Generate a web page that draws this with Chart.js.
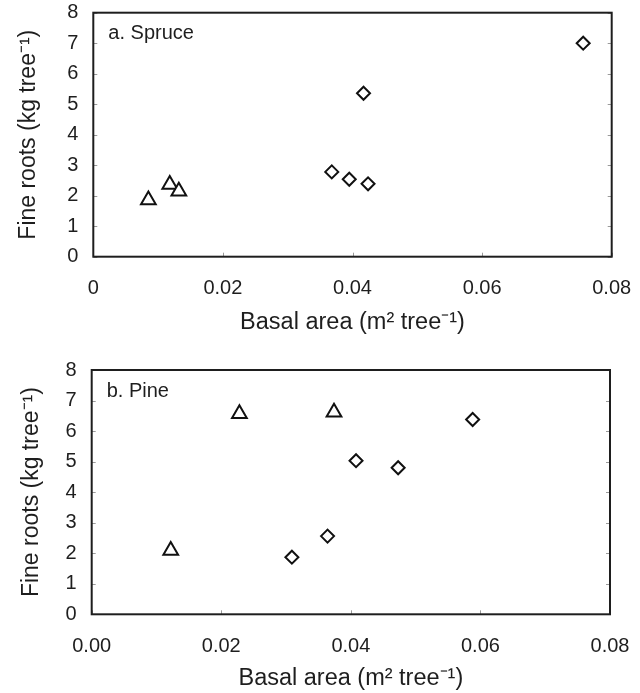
<!DOCTYPE html>
<html>
<head>
<meta charset="utf-8">
<script src="https://cdn.jsdelivr.net/npm/chart.js@4/dist/chart.umd.min.js"></script>
<style>
  html, body { margin: 0; padding: 0; background: #fff; }
  #wrap { position: relative; width: 640px; height: 693px; }
  .box { position: absolute; left: 0; width: 640px; }
</style>
</head>
<body>
<div id="wrap">
  <div class="box" style="top:0;height:340px;"><canvas id="c1"></canvas></div>
  <div class="box" style="top:340px;height:353px;"><canvas id="c2"></canvas></div>
</div>
<script>
// ---- data ----
const yTicks = [0, 1, 2, 3, 4, 5, 6, 7, 8];
const xTicksTop = ["0", "0.02", "0.04", "0.06", "0.08"];
const xTicksBottom = ["0.00", "0.02", "0.04", "0.06", "0.08"];
const xTickValues = [0, 0.02, 0.04, 0.06, 0.08];

const spruceTriX = [0.0085, 0.0118, 0.0132];
const spruceTriY = [1.86, 2.37, 2.15];
const spruceDiaX = [0.0368, 0.0395, 0.0424, 0.0417, 0.0756];
const spruceDiaY = [2.78, 2.54, 2.39, 5.36, 7.0];

const pineTriX = [0.0122, 0.0228, 0.0374];
const pineTriY = [2.09, 6.57, 6.62];
const pineDiaX = [0.0309, 0.0364, 0.0408, 0.0473, 0.0588];
const pineDiaY = [1.87, 2.56, 5.03, 4.80, 6.38];

const panelA = "a. Spruce";
const panelB = "b. Pine";
const xTitle = "Basal area (m\u00B2 tree\u207B\u00B9)";
const yTitle = "Fine roots (kg tree\u207B\u00B9)";

const FONT = "'Liberation Sans', Arial, Helvetica, sans-serif";
const INK = "#1e1e1e";

function pts(xs, ys) { return xs.map((x, i) => ({ x: x, y: ys[i] })); }

const framePlugin = {
  id: 'frame',
  beforeDatasetsDraw(chart) {
    const { ctx, chartArea: a, scales } = chart;
    ctx.save();
    // inner tick marks
    ctx.strokeStyle = '#9a9a9a';
    ctx.lineWidth = 1;
    ctx.beginPath();
    scales.y.ticks.forEach(t => {
      const py = Math.round(scales.y.getPixelForValue(t.value)) + 0.5;
      ctx.moveTo(a.left, py); ctx.lineTo(a.left + 4, py);
      ctx.moveTo(a.right - 4, py); ctx.lineTo(a.right, py);
    });
    scales.x.ticks.forEach(t => {
      const px = Math.round(scales.x.getPixelForValue(t.value)) + 0.5;
      ctx.moveTo(px, a.bottom); ctx.lineTo(px, a.bottom - 4);
    });
    ctx.stroke();
    // frame
    ctx.strokeStyle = INK;
    ctx.lineWidth = 2;
    ctx.strokeRect(a.left, a.top, a.right - a.left, a.bottom - a.top);
    // panel label
    ctx.fillStyle = INK;
    ctx.font = "20px " + FONT;
    ctx.textBaseline = 'middle';
    ctx.textAlign = 'left';
    ctx.fillText(chart.options.plugins.frame.label, a.left + 15, a.top + 21);
    ctx.restore();
  }
};

function makeChart(id, triData, diaData, xLabels, label, geom) {
  return new Chart(document.getElementById(id), {
    type: 'scatter',
    data: {
      datasets: [
        {
          data: triData,
          pointStyle: 'triangle',
          pointRadius: 8.5,
          pointHoverRadius: 8.5,
          borderColor: '#111',
          backgroundColor: '#fff',
          borderWidth: 2
        },
        {
          data: diaData,
          pointStyle: 'rectRot',
          pointRadius: 6.5,
          pointHoverRadius: 6.5,
          borderColor: '#111',
          backgroundColor: '#fff',
          borderWidth: 2
        }
      ]
    },
    plugins: [framePlugin],
    options: {
      responsive: true,
      maintainAspectRatio: false,
      animation: false,
      events: [],
      layout: { padding: { left: 0, top: geom.top, right: geom.right, bottom: 0 } },
      plugins: {
        legend: { display: false },
        tooltip: { enabled: false },
        frame: { label: label }
      },
      scales: {
        x: {
          type: 'linear',
          min: 0, max: 0.08,
          afterBuildTicks: s => { s.ticks = xTickValues.map(v => ({ value: v })); },
          afterFit: s => { s.height = geom.xh; s.paddingLeft = 0; s.paddingRight = 0; },
          grid: { display: false, drawTicks: false },
          border: { display: false },
          ticks: {
            padding: geom.xpad,
            color: INK,
            font: { family: FONT, size: 20 },
            maxRotation: 0,
            callback: (v, i) => xLabels[i]
          },
          title: {
            display: true,
            text: xTitle,
            color: INK,
            font: { family: FONT, size: 23.5, lineHeight: 1.2 },
            padding: { top: 0, bottom: geom.xtpad }
          }
        },
        y: {
          type: 'linear',
          min: 0, max: 8,
          afterBuildTicks: s => { s.ticks = yTicks.map(v => ({ value: v })); },
          afterFit: s => { s.width = geom.yw; s.paddingTop = 0; s.paddingBottom = 0; },
          grid: { display: false, drawTicks: false },
          border: { display: false },
          ticks: {
            padding: 15,
            color: INK,
            font: { family: FONT, size: 20 },
            callback: v => String(v)
          },
          title: {
            display: true,
            text: yTitle,
            color: INK,
            font: { family: FONT, size: 23, lineHeight: 1.2 },
            padding: { top: geom.ytpad, bottom: 0 }
          }
        }
      }
    }
  });
}

makeChart('c1', pts(spruceTriX, spruceTriY), pts(spruceDiaX, spruceDiaY), xTicksTop, panelA,
  { top: 12.7, right: 28.3, xh: 83.3, yw: 93.3, xpad: 20, xtpad: 3.5, ytpad: 15 });
makeChart('c2', pts(pineTriX, pineTriY), pts(pineDiaX, pineDiaY), xTicksBottom, panelB,
  { top: 30, right: 30, xh: 78.7, yw: 91.7, xpad: 20, xtpad: 0.5, ytpad: 18 });
</script>
</body>
</html>
